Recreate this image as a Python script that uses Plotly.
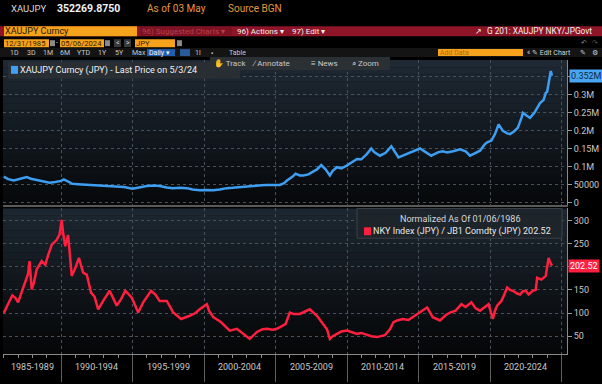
import plotly.graph_objects as go

# ---------------- data ----------------
gold_years = [1986.0, 1986.3, 1986.7, 1987.0, 1987.3, 1987.6, 1987.9, 1988.2, 1988.5, 1988.9,
              1989.2, 1989.6, 1990.0, 1990.2, 1990.5, 1990.8, 1991.2, 1991.75, 1992.2, 1992.7,
              1993.3, 1993.85, 1994.4, 1995.0, 1995.5, 1996.0, 1996.5, 1996.9, 1997.4, 1997.8,
              1998.3, 1998.8, 1999.2, 1999.7, 2000.2, 2000.65, 2001.1, 2001.6, 2002.0, 2002.5,
              2003.0, 2003.45, 2004.0, 2004.4, 2004.9, 2005.3, 2005.6, 2005.8, 2006.2, 2006.4,
              2006.7, 2006.95, 2007.3, 2007.6, 2007.9, 2008.2, 2008.5, 2008.8, 2009.0, 2009.3,
              2009.6, 2009.95, 2010.3, 2010.7, 2011.0, 2011.4, 2011.7, 2011.9, 2012.3, 2012.7,
              2013.1, 2013.35, 2013.6, 2013.9, 2014.2, 2014.6, 2015.1, 2015.5, 2015.9, 2016.0,
              2016.4, 2016.7, 2017.0, 2017.5, 2017.9, 2018.3, 2018.6, 2019.0, 2019.3, 2019.6,
              2019.8, 2020.1, 2020.35, 2020.6, 2020.9, 2021.2, 2021.4, 2021.7, 2021.95, 2022.2,
              2022.3, 2022.6, 2022.8, 2023.1, 2023.3, 2023.5, 2023.75, 2023.9, 2024.0, 2024.1,
              2024.25, 2024.34]
gold_values = [72000, 65000, 61000, 64000, 68000, 70500, 66000, 63000, 61000, 57000,
               55000, 57000, 60000, 64000, 58000, 52000, 51000, 49500, 48000, 47500,
               46000, 45000, 43000, 38500, 43000, 46000, 47000, 46000, 42000, 40000,
               41000, 40000, 36000, 34000, 35000, 34000, 36000, 40000, 41000, 43000,
               44000, 47500, 48000, 49000, 48500, 49000, 54000, 61000, 72000, 80000,
               75000, 75000, 78000, 84000, 92000, 104000, 92000, 75000, 88000, 98000,
               95000, 102000, 110000, 121000, 120000, 135000, 150000, 140000, 130000, 138000,
               156000, 140000, 125000, 130000, 135000, 140000, 150000, 140000, 130000, 132000,
               140000, 142000, 139000, 143000, 148000, 142000, 130000, 138000, 144000, 160000,
               167000, 172000, 190000, 217000, 199000, 192000, 190000, 198000, 208000, 235000,
               249000, 240000, 235000, 249000, 262000, 276000, 285000, 304000, 308000, 336000,
               365000, 352269.875]

ratio_years = [1986.0, 1986.2, 1986.4, 1986.6, 1986.8, 1987.0, 1987.25, 1987.5, 1987.7, 1987.8,
               1987.95, 1988.1, 1988.3, 1988.65, 1988.9, 1989.1, 1989.35, 1989.7, 1989.9, 1990.05,
               1990.15, 1990.3, 1990.5, 1990.75, 1991.0, 1991.25, 1991.55, 1991.8, 1992.1, 1992.35,
               1992.6, 1992.95, 1993.4, 1993.9, 1994.2, 1994.5, 1994.95, 1995.4, 1995.75, 1996.3,
               1996.6, 1996.9, 1997.4, 1997.85, 1998.4, 1999.0, 1999.4, 1999.7, 2000.2, 2000.35,
               2000.65, 2001.2, 2001.5, 2001.8, 2002.3, 2002.6, 2002.9, 2003.2, 2003.7, 2004.1,
               2004.4, 2004.8, 2005.1, 2005.7, 2006.0, 2006.25, 2006.7, 2007.1, 2007.4, 2007.9,
               2008.35, 2008.6, 2008.8, 2009.0, 2009.3, 2009.6, 2010.0, 2010.35, 2010.7, 2011.0,
               2011.4, 2011.7, 2012.1, 2012.65, 2013.0, 2013.25, 2013.5, 2013.9, 2014.3, 2014.6,
               2015.1, 2015.4, 2015.6, 2016.0, 2016.5, 2016.9, 2017.2, 2017.6, 2018.0, 2018.3,
               2018.7, 2019.0, 2019.3, 2019.6, 2019.9, 2020.2, 2020.35, 2020.5, 2020.8, 2021.0,
               2021.2, 2021.4, 2021.6, 2021.9, 2022.1, 2022.3, 2022.5, 2022.7, 2023.0, 2023.2,
               2023.3, 2023.6, 2023.9, 2024.1, 2024.2, 2024.34]
ratio_values = [100, 115, 126, 138, 133, 123, 145, 165, 185, 212,
                151, 165, 194, 212, 204, 225, 247, 258, 270, 301,
                272, 244, 268, 180, 197, 219, 187, 183, 144, 135,
                108, 126, 148, 116, 130, 148, 133, 101, 123, 148,
                140, 126, 126, 101, 87, 94, 100, 108, 119, 105,
                91, 80, 72, 62, 66, 58, 52, 44, 59, 65,
                66, 64, 66, 76, 101, 98, 98, 103, 108, 94,
                76, 65, 44, 50, 55, 60, 62, 58, 55, 57,
                52, 50, 48, 52, 65, 80, 84, 87, 85, 91,
                101, 108, 112, 91, 84, 95, 101, 105, 119, 113,
                123, 110, 105, 112, 119, 87, 105, 116, 126, 140,
                155, 150, 148, 142, 140, 147, 148, 140, 148, 150,
                176, 172, 180, 219, 210, 202.52]

block_labels = ["1985-1989", "1990-1994", "1995-1999", "2000-2004",
                "2005-2009", "2010-2014", "2015-2019", "2020-2024"]
block_edges = [1990, 1995, 2000, 2005, 2010, 2015, 2020, 2025]
top_tickvals = [0, 50000, 100000, 150000, 200000, 250000, 300000, 350000]
top_ticktext = ["0", "50000", "0.1M", "0.15M", "0.2M", "0.25M", "0.3M", ""]
bot_tickvals = [50, 100, 150, 200, 250, 300]
bot_ticktext = ["50", "100", "150", "", "250", "300"]

# ---------------- styling helpers ----------------
W, H = 602, 384
PL, PR, PT, PB = 3, 567, 60, 357
FONT = "Roboto, Liberation Sans, sans-serif"
BLUE = "#3d9ef2"
RED = "#ff1f3f"
ORANGE = "#f5a21c"
XMIN, XMAX = 1985.944, 2025.385


def X(px):
    return (px - PL) / (PR - PL)


def Y(py):
    return (PB - py) / (PB - PT)


shapes = []
annots = []


def box(x0, y0, x1, y1, color, line=None):
    shapes.append(dict(type="rect", xref="paper", yref="paper",
                       x0=X(x0), x1=X(x1), y0=Y(y1), y1=Y(y0),
                       fillcolor=color, line=dict(width=1 if line else 0, color=line or color),
                       layer="above"))


def txt(x, y, s, color="#d0d0d0", size=9, anchor="left", bold=False):
    annots.append(dict(xref="paper", yref="paper", x=X(x), y=Y(y), text=("<b>%s</b>" % s) if bold else s,
                       showarrow=False, xanchor=anchor, yanchor="middle", borderpad=0, borderwidth=0,
                       font=dict(family=FONT, size=size, color=color)))


def mix(c1, c2, t):
    a = [int(c1[i:i + 2], 16) for i in (1, 3, 5)]
    b = [int(c2[i:i + 2], 16) for i in (1, 3, 5)]
    return "#%02x%02x%02x" % tuple(round(a[k] + (b[k] - a[k]) * t) for k in range(3))


# gradient panel backgrounds
N = 20
for xr, yr, ctop, cbot in (("x domain", "y domain", "#1f2a35", "#06080a"),
                           ("x2 domain", "y2 domain", "#1d2731", "#050607")):
    for i in range(N):
        shapes.append(dict(type="rect", xref=xr, yref=yr, x0=0, x1=1, y0=i / N, y1=(i + 1) / N,
                           fillcolor=mix(cbot, ctop, (i + 0.5) / N), line=dict(width=0), layer="below"))

# ---------------- header ----------------
txt(11, 8, "XAUJPY", "#d8d8d8", 9.5)
txt(57, 8, "352269.8750", "#f2f2f2", 10.5, bold=True)
txt(147, 8, "As of 03 May", "#e49a3a", 10)
txt(228, 8, "Source BGN", "#e49a3a", 10)

box(0, 26, 602, 36, "#8e1528")
box(4, 26, 137, 36, ORANGE)
txt(5, 31, "XAUJPY Curncy", "#2a1800", 9)
box(140, 27, 232, 35, "#7c1222")
txt(142, 31, "96) Suggested Charts \u25be", "#b5404f", 8)
txt(237, 31, "96) Actions \u25be", "#f0f0f0", 8)
txt(292, 31, "97) Edit \u25be", "#f0f0f0", 8)
txt(475, 31, "\u2197", "#f0f0f0", 8)
txt(487, 31, "G 201: XAUJPY NKY/JPGovt", "#f0f0f0", 8.3)

box(4, 39, 49, 47, ORANGE)
txt(5, 43, "12/31/1985", "#3a2000", 7.6)
box(50, 40, 55, 46, "#8a8a8a")
txt(56, 43, "-", "#d0d0d0", 7)
box(60, 39, 104, 47, ORANGE)
txt(61, 43, "05/06/2024", "#3a2000", 7.6)
box(105, 40, 110, 46, "#8a8a8a")
box(114, 39, 121, 47, "#3a3a3a")
txt(115.5, 43, "<", "#d0d0d0", 7)
box(124, 39, 131, 47, "#3a3a3a")
txt(125.5, 43, ">", "#d0d0d0", 7)
box(135, 39, 175, 47, ORANGE)
txt(136, 43, "JPY", "#3a2000", 7.6)
box(177, 40, 182, 46, "#8a8a8a")
txt(584, 43, "\u21b6", "#8a8a8a", 7, anchor="center")
txt(595, 43, "\u21b7", "#5a5a5a", 7, anchor="center")

box(0, 48, 602, 57, "#141414")
for xx, s in ((10, "1D"), (27, "3D"), (43, "1M"), (60, "6M"), (77, "YTD"), (98, "1Y"), (115, "5Y"), (132, "Max")):
    txt(xx, 52.5, s, "#c8c8c8", 7)
box(147, 49, 175, 56, "#1f5fb0")
txt(149, 52.5, "Daily \u25be", "#f0f0f0", 7)
box(180, 49, 190, 56, "#2a5a9a")
txt(195, 52.5, "1l", "#c8c8c8", 7)
txt(211, 52.5, "\u25aa", "#c8c8c8", 6)
txt(229, 52.5, "Table", "#c8c8c8", 7)
box(438, 49, 523, 56, ORANGE)
txt(440, 52.5, "Add Data", "#b06a10", 7)
txt(527, 52.5, "\u00ab \u270e Edit Chart", "#d0d0d0", 7)
txt(583, 52.5, "\u270e", "#d0d0d0", 7, anchor="center")
txt(595, 52.5, "\u2699", "#d0d0d0", 7, anchor="center")

# ---------------- chart overlays ----------------
box(8, 62, 240, 79, "rgba(42,47,52,0.92)")
box(11, 66, 18, 74, BLUE)
txt(20, 70.5, "XAUJPY Curncy (JPY) - Last Price on 5/3/24", "#f0f0f0", 9)
box(210, 57, 390, 70, "#2b3035")
txt(214, 63.5, "\u270b Track", "#c8c8c8", 8)
txt(252, 63.5, "\u2215 Annotate", "#c8c8c8", 8)
txt(311, 63.5, "\u2261 News", "#c8c8c8", 8)
txt(352, 63.5, "\u2315 Zoom", "#c8c8c8", 8)

box(357, 210, 562, 240, "rgba(30,36,42,0.94)", line="#3a4046")
txt(460, 221, "Normalized As Of 01/06/1986", "#d8d8d8", 9, anchor="center")
box(364, 229, 371, 237, RED)
txt(373, 233, "NKY Index (JPY) / JB1 Comdty (JPY) 202.52", "#e8e8e8", 9)

# last-value tags
annots.append(dict(xref="paper", yref="y", x=X(569), y=gold_values[-1], text="0.352M", showarrow=False,
                   xanchor="left", yanchor="middle", bgcolor="#4aa6f2", borderpad=1,
                   font=dict(family=FONT, size=9, color="#0c2846")))
annots.append(dict(xref="paper", yref="y2", x=X(568), y=ratio_values[-1], text="202.52", showarrow=False,
                   xanchor="left", yanchor="middle", bgcolor=RED, borderpad=1,
                   font=dict(family=FONT, size=9, color="#ffffff")))

# x block labels
centers = [(XMIN + block_edges[0]) / 2] + [e + 2.5 for e in block_edges[:-1]]
for c, lab in zip(centers, block_labels):
    annots.append(dict(xref="x2", yref="paper", x=c, y=Y(370), text=lab, showarrow=False,
                       xanchor="center", yanchor="middle",
                       font=dict(family=FONT, size=9, color="#c8c8c8")))

# ---------------- figure ----------------
fig = go.Figure()
fig.add_trace(go.Scatter(x=gold_years, y=gold_values, mode="lines", xaxis="x", yaxis="y",
                         line=dict(color=BLUE, width=2.5), hoverinfo="skip", showlegend=False))
fig.add_trace(go.Scatter(x=ratio_years, y=ratio_values, mode="lines", xaxis="x2", yaxis="y2",
                         line=dict(color=RED, width=2.5), hoverinfo="skip", showlegend=False))

grid = dict(showgrid=True, gridcolor="#46515c", griddash="dot", gridwidth=1, zeroline=False)
yax = dict(side="right", showline=True, linecolor="#8a8a8a", linewidth=1, ticks="outside",
           ticklen=4, tickcolor="#9a9a9a", tickfont=dict(family=FONT, size=9, color="#c8c8c8"),
           tickmode="array", **grid)

fig.update_layout(
    width=W, height=H, autosize=False,
    margin=dict(l=PL, r=W - PR, t=PT, b=H - PB, pad=0),
    paper_bgcolor="#000000", plot_bgcolor="#0b0f13",
    showlegend=False, hovermode=False,
    xaxis=dict(domain=[0, 1], anchor="y", range=[XMIN, XMAX], tickmode="array", tickvals=block_edges,
               showticklabels=False, ticks="", showline=True, linecolor="#5a5a5a", linewidth=2, **grid),
    yaxis=dict(domain=[Y(206), 1], anchor="x", range=[-5500, 395600],
               tickvals=top_tickvals, ticktext=top_ticktext, **yax),
    xaxis2=dict(domain=[0, 1], anchor="y2", range=[XMIN, XMAX], tickmode="array", tickvals=block_edges,
                ticktext=[""] * len(block_edges), ticks="outside", ticklen=27, tickcolor="#5e5e5e",
                showline=True, linecolor="#8a8a8a", linewidth=1,
                minor=dict(dtick=1, ticks="outside", ticklen=3, tickcolor="#8a8a8a", showgrid=False),
                **grid),
    yaxis2=dict(domain=[0, Y(210)], anchor="x2", range=[11.5, 325.6],
                tickvals=bot_tickvals, ticktext=bot_ticktext, **yax),
    shapes=shapes, annotations=annots,
)

fig.write_html("out.html", config={"displayModeBar": False, "staticPlot": True},
               post_script="document.documentElement.style.margin='0';document.body.style.margin='0';"
                           "document.body.style.background='#000';")
